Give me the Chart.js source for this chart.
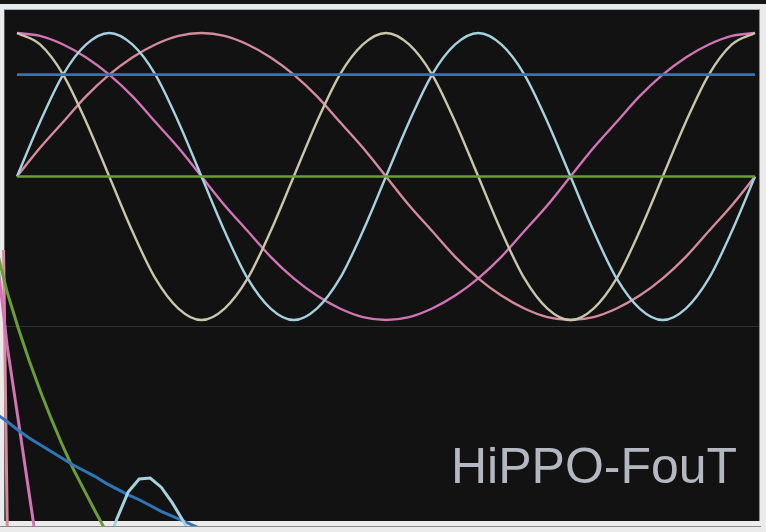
<!DOCTYPE html>
<html>
<head>
<meta charset="utf-8">
<script src="https://cdn.jsdelivr.net/npm/chart.js@4"></script>
<style>
  html, body { margin: 0; padding: 0; }
  body { width: 766px; height: 532px; background: #ebebeb; position: relative; overflow: hidden; }
  .topstrip { position: absolute; left: 0; top: 0; width: 766px; height: 4px; background: #151515; }
  .panel { position: absolute; left: 4px; top: 9px; width: 754px; height: 511px;
    background: #121212; border-top: 1px solid #9ab3cb; border-left: 1px solid #5a5a5a; border-right: 1px solid #8c8c8c; }
  .sep { position: absolute; left: 5px; top: 326px; width: 754px; height: 1px; background: #303030; }
  .bottomline { position: absolute; left: 0; top: 526px; width: 761px; height: 1px; background: #8a8a8a; }
  #top { position: absolute; left: 5px; top: 10px; }
  #bottom { position: absolute; left: 0; top: 250px; }
  .label { position: absolute; left: 451px; top: 441px; font: 50px "Liberation Sans", Arial, sans-serif;
    line-height: 50px; color: #b4b8c0; white-space: nowrap; }
</style>
</head>
<body>
<div class="topstrip"></div>
<div class="panel"></div>
<div class="sep"></div>
<div class="bottomline"></div>
<canvas id="top" width="754" height="316"></canvas>
<canvas id="bottom" width="766" height="276"></canvas>
<div class="label">HiPPO-FouT</div>
<script>
// top panel: basis functions sampled at 33 steps across the window
const steps = Array.from({ length: 33 }, (_, i) => i);
const constHigh = new Array(33).fill(0.71);
const constZero = new Array(33).fill(0);
const cos1 = [1, .98, .92, .83, .71, .56, .38, .2, 0, -.2, -.38, -.56, -.71, -.83, -.92, -.98, -1,
  -.98, -.92, -.83, -.71, -.56, -.38, -.2, 0, .2, .38, .56, .71, .83, .92, .98, 1];
const sin1 = [0, .2, .38, .56, .71, .83, .92, .98, 1, .98, .92, .83, .71, .56, .38, .2, 0,
  -.2, -.38, -.56, -.71, -.83, -.92, -.98, -1, -.98, -.92, -.83, -.71, -.56, -.38, -.2, 0];
const cos2 = [1, .92, .71, .38, 0, -.38, -.71, -.92, -1, -.92, -.71, -.38, 0, .38, .71, .92, 1,
  .92, .71, .38, 0, -.38, -.71, -.92, -1, -.92, -.71, -.38, 0, .38, .71, .92, 1];
const sin2 = [0, .38, .71, .92, 1, .92, .71, .38, 0, -.38, -.71, -.92, -1, -.92, -.71, -.38, 0,
  .38, .71, .92, 1, .92, .71, .38, 0, -.38, -.71, -.92, -1, -.92, -.71, -.38, 0];

// bottom panel: trajectories, only the part that shows in the window
const bottomSteps = [-1, 0, 1, 2, 3, 4, 5, 6, 7, 8, 9, 10, 11, 12, 13, 14, 15, 16, 17, 18, 19];
const trajPink = [1.8, 0.8, 0.04, -0.73, -1.5, -2.24, null, null, null, null, null, null, null, null, null, null, null, null, null, null, null];
const trajRose = [7.6, -1.05, -9.1, null, null, null, null, null, null, null, null, null, null, null, null, null, null, null, null, null, null];
const trajGreen = [1.82, 1.36, 0.99, 0.65, 0.34, 0.05, -0.22, -0.47, -0.69, -0.91, -1.12, -1.31, null, null, null, null, null, null, null, null, null];
const trajBlue = [0.1, 0.02, -0.07, -0.15, -0.22, -0.29, -0.36, -0.43, -0.49, -0.55, -0.62, -0.68, -0.74, -0.79, -0.85, -0.91, -0.96, -1.01, -1.06, -1.11, -1.17];
const trajLight = [null, null, null, null, null, null, null, null, null, null, -1.28, -0.98, -0.71, -0.575, -0.565, -0.66, -0.82, -1.01, -1.23, null, null];

const colors = {
  pink: "#d274b6",
  rose: "#d48c9c",
  beige: "#c9c6aa",
  light: "#a6d2e0",
  blue: "#2f75b8",
  green: "#6a9c3a",
};

const pairs = (xs, ys) => xs.map((x, i) => ({ x, y: ys[i] }));

const lineSet = (data, color, width, smooth) => ({
  data,
  borderColor: color,
  borderWidth: width,
  pointRadius: 0,
  fill: false,
  clip: false,
  spanGaps: false,
  tension: 0,
  cubicInterpolationMode: smooth ? "monotone" : "default",
});

const baseOptions = (padding, xMin, xMax, yMin, yMax) => ({
  responsive: false,
  animation: false,
  events: [],
  layout: { padding },
  plugins: { legend: { display: false }, tooltip: { enabled: false } },
  scales: {
    x: { type: "linear", min: xMin, max: xMax, display: false },
    y: { type: "linear", min: yMin, max: yMax, display: false },
  },
});

new Chart(document.getElementById("top"), {
  type: "line",
  data: {
    datasets: [
      lineSet(pairs(steps, constZero), colors.green, 2.6, true),
      lineSet(pairs(steps, constHigh), colors.blue, 2.6, true),
      lineSet(pairs(steps, sin2), colors.light, 2.4, true),
      lineSet(pairs(steps, cos2), colors.beige, 2.4, true),
      lineSet(pairs(steps, sin1), colors.rose, 2.4, true),
      lineSet(pairs(steps, cos1), colors.pink, 2.4, true),
    ],
  },
  options: baseOptions({ left: 12, right: 4, top: 23, bottom: 6 }, 0, 32, -1, 1),
});

new Chart(document.getElementById("bottom"), {
  type: "line",
  data: {
    datasets: [
      lineSet(pairs(bottomSteps, trajLight), colors.light, 3, false),
      lineSet(pairs(bottomSteps, trajBlue), colors.blue, 3, false),
      lineSet(pairs(bottomSteps, trajGreen), colors.green, 3, false),
      lineSet(pairs(bottomSteps, trajPink), colors.pink, 3, false),
      lineSet(pairs(bottomSteps, trajRose), colors.rose, 3, false),
    ],
  },
  options: baseOptions({ left: 5, right: 7, top: 77, bottom: 6 }, -0.2, 68.35, -1, 1),
});
</script>
</body>
</html>
